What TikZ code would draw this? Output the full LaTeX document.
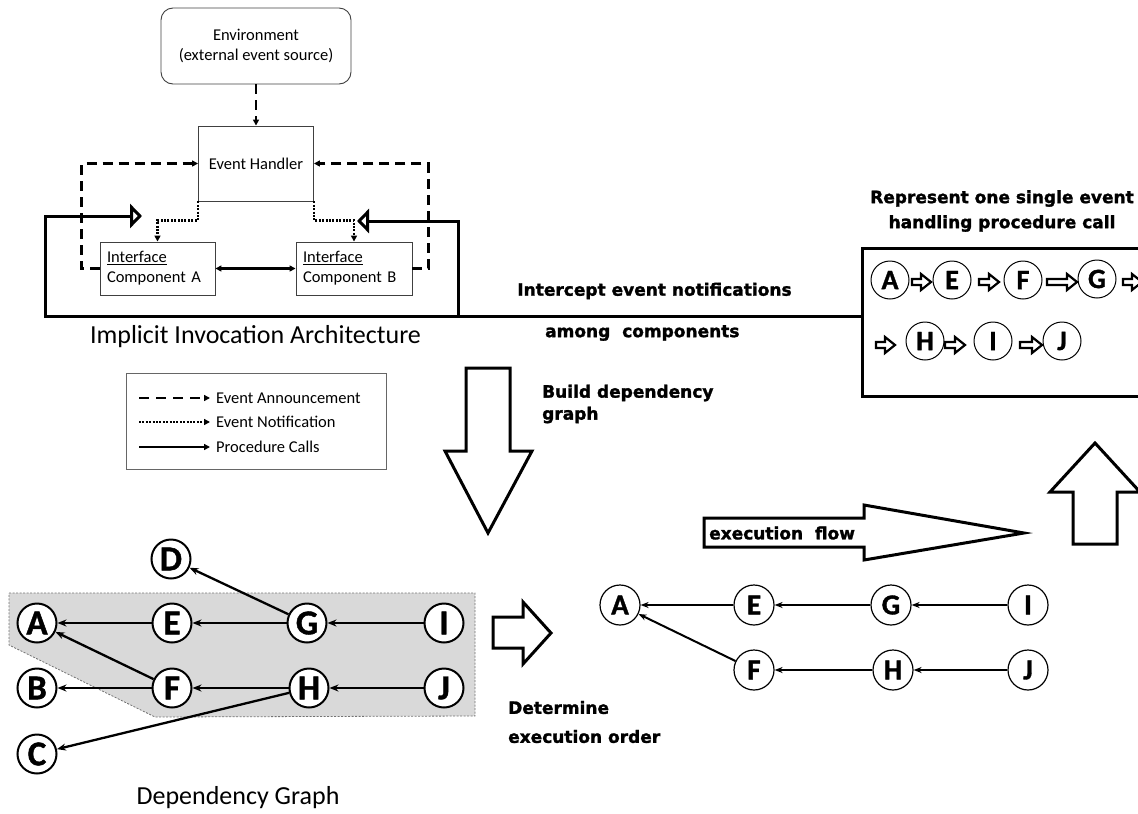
\documentclass[tikz,border=0pt]{standalone}
\usepackage{fontspec}
\setmainfont{Carlito}
\newfontfamily\heavyfont{DejaVu Sans}[BoldFeatures={FakeBold=1.6}]
\newfontfamily\letterfont{Carlito}[BoldFeatures={FakeBold=1.2}]
\usetikzlibrary{arrows.meta}

\begin{document}
\begin{tikzpicture}[x=1pt,y=-1pt,
  plainbox/.style={draw=black!75, line width=0.9pt, inner sep=0pt},
  smalltext/.style={font=\fontsize{16.5}{20}\selectfont},
  bigtext/.style={font=\fontsize{26}{30}\selectfont},
  heavy/.style={font=\heavyfont\bfseries\fontsize{17}{22}\selectfont, inner sep=0pt},
  ann/.style={line width=2.2pt, dash pattern=on 10pt off 6pt, -{Triangle[length=6pt,width=6pt]}},
  notif/.style={line width=2.2pt, dash pattern=on 2pt off 1.4pt, -{Triangle[length=6pt,width=6pt]}},
  proc/.style={line width=2.2pt, -{Triangle[length=6pt,width=6pt]}},
  intercept/.style={line width=3pt, -{Triangle[open,length=12pt,width=24pt]}},
  dnode/.style={circle, draw, line width=2pt, fill=white, minimum size=39pt, inner sep=0pt,
    font=\letterfont\bfseries\fontsize{35}{35}\selectfont},
  dedge/.style={line width=2.3pt, -{Stealth[length=9pt,width=7pt]}},
  onode/.style={circle, draw, line width=1.2pt, fill=white, minimum size=40pt, inner sep=0pt,
    font=\letterfont\bfseries\fontsize{29}{29}\selectfont},
  oedge/.style={line width=2pt, -{Stealth[length=8pt,width=6pt]}},
  snode/.style={circle, draw, line width=1pt, minimum size=38pt, inner sep=0pt,
    font=\letterfont\bfseries\fontsize{28}{28}\selectfont},
  bigarrow/.style={draw, line width=3pt, line join=miter, fill=white},
  pics/minarrow/.style={code={
    \draw[line width=2.2pt, line join=miter, fill=white]
      (0,-3) -- (#1,-3) -- (#1,-8) -- ++(10,8) -- (#1,8) -- (#1,3) -- (0,3) -- cycle;}}
]
\useasboundingbox (0,0) rectangle (1138,814);

% ---------- implicit invocation architecture ----------
\node[plainbox, rounded corners=12pt, minimum width=190pt, minimum height=76pt,
      smalltext, align=center] (env) at (256,46) {Environment\\(external event source)};
\node[plainbox, minimum width=115pt, minimum height=75pt, smalltext] (eh) at (256,163.5) {Event Handler};
\node[plainbox, minimum width=115pt, minimum height=53pt, smalltext, text width=101pt,
      align=left] (ca) at (157.5,268.5) {\underline{Interface}\\Component A};
\node[plainbox, minimum width=116pt, minimum height=53pt, smalltext, text width=102pt,
      align=left] (cb) at (354,268.5) {\underline{Interface}\\Component B};

\draw[ann] (env) -- (eh);
\draw[ann] (ca.west) -- ++(-18,0) |- (eh.west);
\draw[ann] (cb.east) -- ++(16,0) |- (eh.east);
\draw[notif] (eh.south west) -- ++(0,19) -| (ca.north);
\draw[notif] (eh.south east) -- ++(0,19) -| (cb.north);
\draw[line width=2.2pt, {Triangle[length=6pt,width=6pt]}-{Triangle[length=6pt,width=6pt]}] (ca) -- (cb);

\node[bigtext] (archlabel) at (255.5,337) {Implicit Invocation Architecture};

% ---------- single event handling procedure call ----------
\node[draw, line width=3pt, anchor=north west, minimum width=300pt, minimum height=148pt,
      inner sep=0pt] (rbox) at (861,247) {};
\node[heavy, align=center, font=\heavyfont\bfseries\fontsize{17}{25}\selectfont] (rtitle) at (1002,211)
  {Represent one single event\\handling procedure call};

% interception of event notifications
\coordinate (tipA) at (142,216);
\coordinate (tipB) at (357,221);
\coordinate (joint) at (458,316);
\coordinate (leftcorner) at (45,316);
\draw[intercept] (rbox.west |- joint) -- (leftcorner) |- (tipA);
\draw[intercept] (joint) |- (tipB);

\node[heavy] (intercept1) at (654.5,291) {Intercept event notifications};
\node[heavy, anchor=west] (intercept2) at (545,333) {among\ \ components};

\node[snode] (sA) at (890,280) {A};
\node[snode] (sE) at (952,280) {E};
\node[snode] (sF) at (1023,280) {F};
\node[snode] (sG) at (1097,279) {G};
\node[snode] (sH) at (925,341) {H};
\node[snode] (sI) at (993,341) {I};
\node[snode] (sJ) at (1062,341) {J};
\pic at (912,282) {minarrow=9};
\pic at (979,282) {minarrow=10};
\pic at (1047,282) {minarrow=20};
\pic at (1123,282) {minarrow=9};
\pic at (876,345) {minarrow=9};
\pic at (945,345) {minarrow=10};
\pic at (1020,345) {minarrow=12};

% ---------- legend ----------
\node[draw=black!60, line width=0.8pt, anchor=north west, minimum width=260pt, minimum height=96pt,
      inner sep=0pt] (legend) at (126,373) {};
\node[smalltext, anchor=west, inner xsep=3pt, inner ysep=0pt] (lg1) at (213,398) {Event Announcement};
\node[smalltext, anchor=west, inner xsep=3pt, inner ysep=0pt] (lg2) at (213,422) {Event Notification};
\node[smalltext, anchor=west, inner xsep=3pt, inner ysep=0pt] (lg3) at (213,447) {Procedure Calls};
\coordinate (ls1) at (139,398);
\coordinate (ls2) at (139,422);
\coordinate (ls3) at (139,447);
\draw[ann, dash pattern=on 10pt off 7pt, shorten >=3pt] (ls1) -- (lg1.west);
\draw[notif, shorten >=3pt] (ls2) -- (lg2.west);
\draw[proc, shorten >=3pt] (ls3) -- (lg3.west);

% ---------- big process arrows ----------
\draw[bigarrow] (466,368) -- (510,368) -- (510,451) -- (532,451) -- (488,533)
  -- (445,451) -- (466,451) -- cycle;
\node[heavy, anchor=west, align=left] (buildlbl) at (542,404) {Build dependency\\graph};

\draw[bigarrow] (493,617) -- (523,617) -- (523,602) -- (551,633) -- (523,664)
  -- (523,648) -- (493,648) -- cycle;
\node[heavy, anchor=west, align=left, font=\heavyfont\bfseries\fontsize{17}{29}\selectfont]
  (detlbl) at (508,722) {Determine\\execution order};

\draw[bigarrow] (704,518) -- (864,518) -- (864,505) -- (1024,533) -- (864,560)
  -- (864,547) -- (704,547) -- cycle;
\node[heavy, anchor=west] (flowlbl) at (709,533) {execution\ \ flow};

\draw[bigarrow] (1073,544) -- (1117,544) -- (1117,492) -- (1140,492) -- (1095,443)
  -- (1050,492) -- (1073,492) -- cycle;

% ---------- dependency graph ----------
\fill[black!15] (9,593) -- (475,593) -- (475,716) -- (155,717) -- (9,645) -- cycle;
\draw[black!55, line width=0.8pt, dash pattern=on 2pt off 1.5pt]
  (9,593) -- (475,593) -- (475,716) -- (155,717) -- (9,645) -- cycle;

\node[dnode] (dA) at (37,623) {A};
\node[dnode] (dE) at (172,623) {E};
\node[dnode] (dG) at (307,623) {G};
\node[dnode] (dI) at (444,623) {I};
\node[dnode] (dB) at (37,688) {B};
\node[dnode] (dF) at (172,688) {F};
\node[dnode] (dH) at (309,688) {H};
\node[dnode] (dJ) at (444,688) {J};
\node[dnode] (dD) at (171,559) {D};
\node[dnode] (dC) at (37,754) {C};

\draw[dedge] (dG) -- (dD);
\draw[dedge] (dE) -- (dA);
\draw[dedge] (dG) -- (dE);
\draw[dedge] (dI) -- (dG);
\draw[dedge] (dF) -- (dA);
\draw[dedge] (dF) -- (dB);
\draw[dedge] (dH) -- (dF);
\draw[dedge] (dJ) -- (dH);
\draw[dedge] (dH) -- (dC);

\node[bigtext] (deplabel) at (238,798) {Dependency Graph};

% ---------- execution order ----------
\node[onode] (oA) at (620,605) {A};
\node[onode] (oE) at (754,605) {E};
\node[onode] (oG) at (891,605) {G};
\node[onode] (oI) at (1028,605) {I};
\node[onode] (oF) at (754,670) {F};
\node[onode] (oH) at (893,670) {H};
\node[onode] (oJ) at (1028,670) {J};

\draw[oedge] (oE) -- (oA);
\draw[oedge] (oG) -- (oE);
\draw[oedge] (oI) -- (oG);
\draw[oedge] (oF) -- (oA);
\draw[oedge] (oH) -- (oF);
\draw[oedge] (oJ) -- (oH);
\end{tikzpicture}
\end{document}
